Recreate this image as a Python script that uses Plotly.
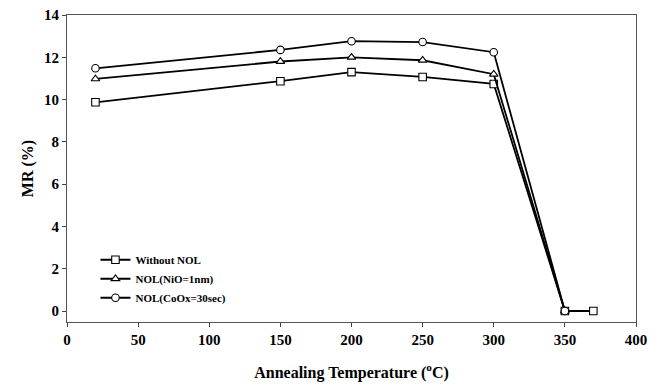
import plotly.graph_objects as go

temps_without = [20, 150, 200, 250, 300, 350, 370]
mr_without = [9.87, 10.87, 11.3, 11.07, 10.74, 0, 0]

temps_nio = [20, 150, 200, 250, 300, 350]
mr_nio = [10.98, 11.8, 12.0, 11.86, 11.2, 0]

temps_coox = [20, 150, 200, 250, 300, 350]
mr_coox = [11.48, 12.35, 12.76, 12.72, 12.24, 0]

names = ["Without NOL", "NOL(NiO=1nm)", "NOL(CoOx=30sec)"]
x_ticks = [0, 50, 100, 150, 200, 250, 300, 350, 400]
y_ticks = [0, 2, 4, 6, 8, 10, 12, 14]

serif = "Liberation Serif, Times New Roman, serif"

fig = go.Figure()
series = [
    (temps_without, mr_without, names[0], "square"),
    (temps_nio, mr_nio, names[1], "triangle-up"),
    (temps_coox, mr_coox, names[2], "circle"),
]
for xs, ys, nm, sym in series:
    fig.add_trace(go.Scatter(
        x=xs, y=ys, name=nm, mode="lines+markers",
        line=dict(color="black", width=1.8),
        marker=dict(symbol=sym, size=7.5, color="white",
                    line=dict(color="black", width=1.1)),
    ))

axis_common = dict(
    showgrid=False, zeroline=False, showline=True, linecolor="#555",
    linewidth=1, mirror=True, ticks="outside", ticklen=4, tickcolor="#444",
    tickfont=dict(family=serif, size=15, color="black", weight="bold"),
    automargin=False,
)
fig.update_xaxes(range=[0, 400], tickvals=x_ticks,
                 title=dict(text="Annealing Temperature (<sup>o</sup>C)",
                            font=dict(family=serif, size=16, color="black", weight="bold"),
                            standoff=19),
                 **axis_common)
fig.update_yaxes(range=[-0.52, 14], tickvals=y_ticks,
                 title=dict(text="MR (%)",
                            font=dict(family=serif, size=16, color="black", weight="bold"),
                            standoff=6),
                 **axis_common)

fig.update_layout(
    width=661, height=385,
    margin=dict(l=67, r=25, t=15, b=63),
    paper_bgcolor="white", plot_bgcolor="white",
    legend=dict(x=0.05, y=0.25, xanchor="left", yanchor="top",
                bgcolor="rgba(0,0,0,0)",
                font=dict(family=serif, size=11, color="black", weight="bold"),
                itemwidth=30, tracegroupgap=0),
)

fig.write_html("out.html", config={"displayModeBar": False},
               post_script="document.body.style.margin='0';document.body.style.overflow='hidden';")
